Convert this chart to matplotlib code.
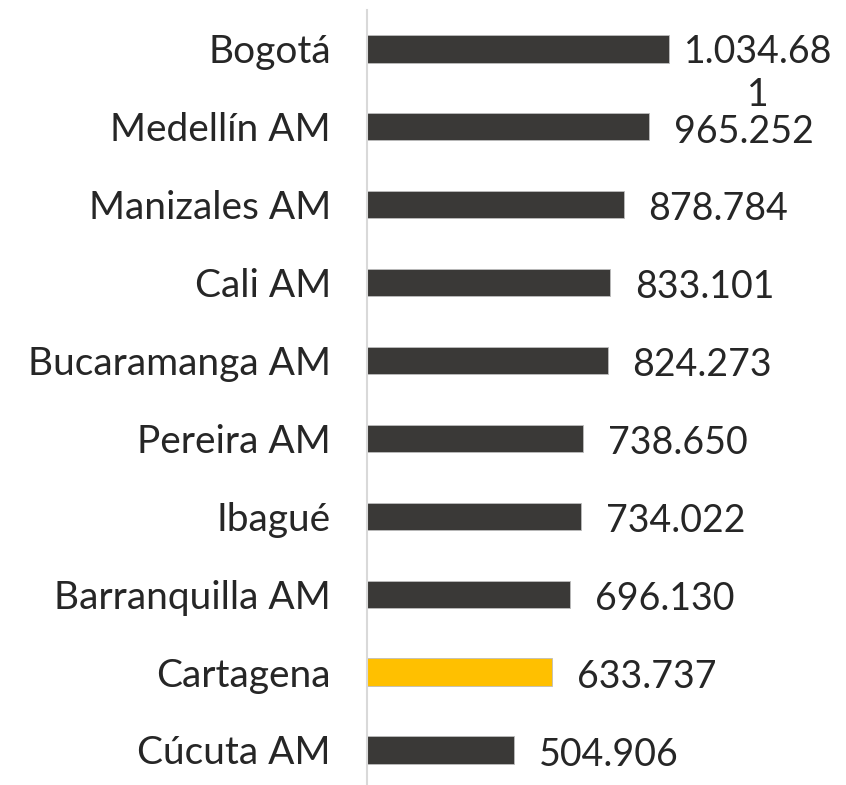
import matplotlib
matplotlib.use("Agg")
import matplotlib.pyplot as plt

ciudades = ["Bogotá", "Medellín AM", "Manizales AM", "Cali AM", "Bucaramanga AM",
            "Pereira AM", "Ibagué", "Barranquilla AM", "Cartagena", "Cúcuta AM"]
valores = [1034681, 965252, 878784, 833101, 824273, 738650, 734022, 696130, 633737, 504906]
etiquetas = ["1.034.68\n1", "965.252", "878.784", "833.101", "824.273",
             "738.650", "734.022", "696.130", "633.737", "504.906"]
destacado = "Cartagena"

plt.rcParams['font.family'] = ['Lato', 'DejaVu Sans']

fig = plt.figure(figsize=(8.46, 7.85), dpi=100)
ax = fig.add_axes([367 / 846, 0, 479 / 846, 1 - 10 / 785])

colores = ["#FFC000" if c == destacado else "#3A3937" for c in ciudades]
pos = list(range(len(ciudades)))
ax.barh(pos, valores, height=0.35, color=colores, edgecolor="#BDBDBD", linewidth=0.6)

for i, (v, t) in enumerate(zip(valores, etiquetas)):
    if "\n" in t:
        # etiqueta larga que se parte en dos lineas como en el original
        ax.text(v + 50000, i + 0.32, t, ha="left", va="center", fontsize=27,
                color="#262626", multialignment="center", linespacing=1.25)
    else:
        ax.text(v + 85000, i + 0.06, t, ha="left", va="center", fontsize=27, color="#262626")

ax.set_xlim(0, 1640000)
ax.set_ylim(9.45, -0.5)
ax.set_yticks(pos)
ax.set_yticklabels(ciudades, fontsize=28, color="#262626")
ax.tick_params(axis="y", length=0, pad=26)
ax.set_xticks([])
for s in ["top", "right", "bottom"]:
    ax.spines[s].set_visible(False)
ax.spines["left"].set_color("#D9D9D9")
ax.spines["left"].set_linewidth(1.5)

fig.savefig("out.png", dpi=100)
